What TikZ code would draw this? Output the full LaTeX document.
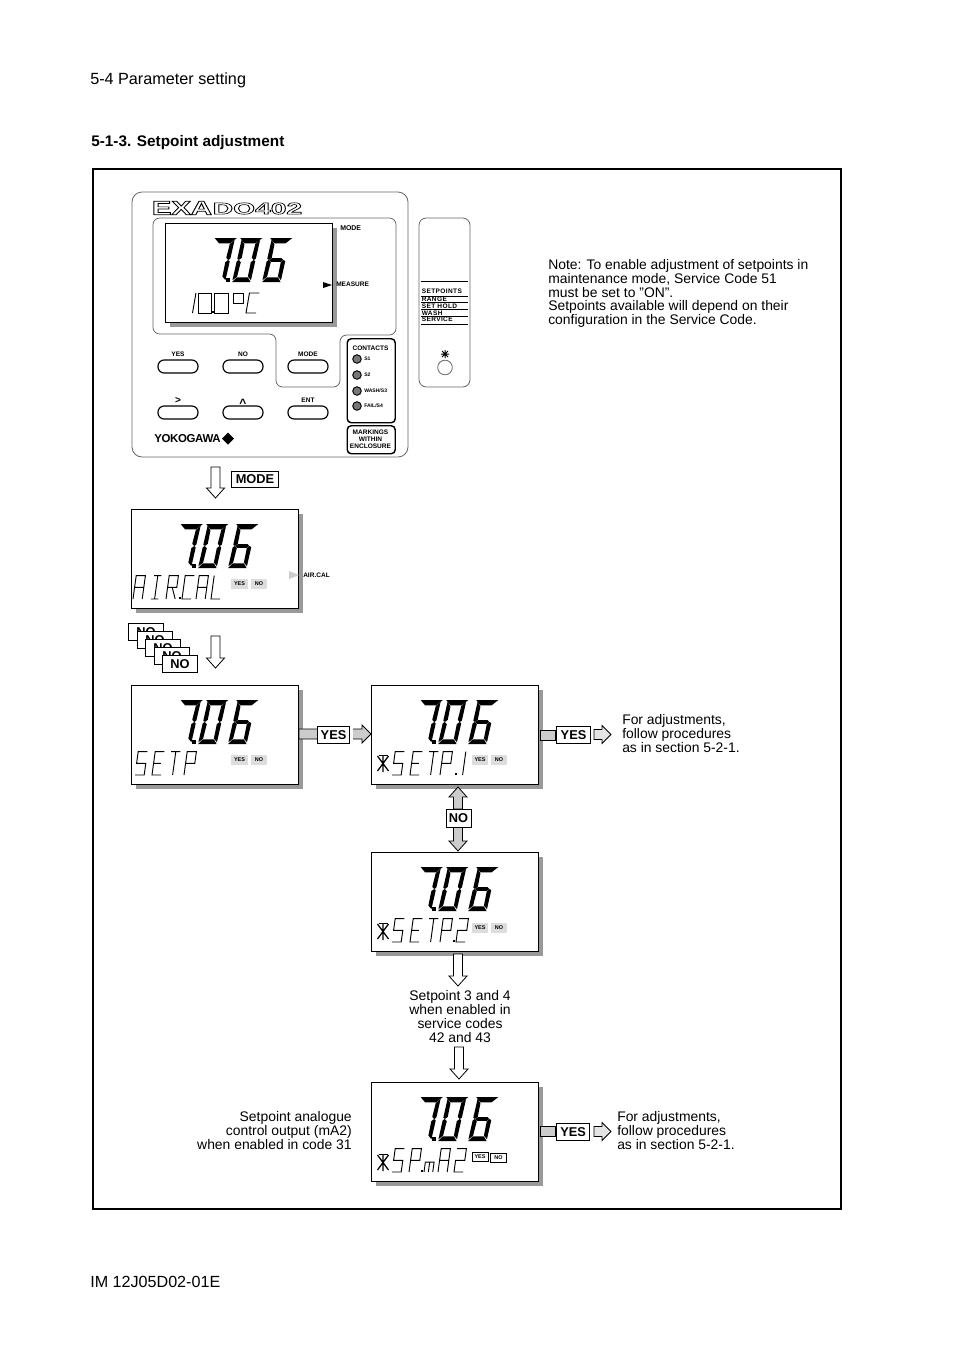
\documentclass[tikz,border=0pt]{standalone}
\usepackage{fontspec}
\setmainfont{Liberation Sans}
\usetikzlibrary{calc}
\newcommand\fs[1]{\fontsize{#1}{#1}\selectfont}
\definecolor{lcdshadow}{HTML}{999999}
\definecolor{panelline}{HTML}{666666}
\definecolor{blockfill}{HTML}{CCCCCC}
\definecolor{blocklight}{HTML}{E4E4E4}
\definecolor{tagfill}{HTML}{DDDDDD}
\definecolor{ledfill}{HTML}{777777}
\tikzset{
  lcdframe/.style={draw=black,line width=.9pt,fill=white,minimum width=125.25pt,minimum height=74.25pt,inner sep=0pt},
  lcdline/.style={line width=.7pt,line cap=butt,line join=miter},
  hiddentext/.style={opacity=0,inner sep=0pt,font=\fs{9}},
  blockarrow/.style={draw=black,line width=.6pt,line join=miter},
  body/.style={inner sep=0pt,font=\fontsize{10.42}{10.3}\selectfont},
  keybox/.style={draw=black,line width=.8pt,fill=white,inner sep=0pt,font=\bfseries\fs{9.6}},
  panelgray/.style={draw=panelline,line width=.6pt},
  tiny/.style={inner sep=0pt,font=\bfseries\fs{4.9}},
  pill/.style={draw=black,line width=.9pt,rounded corners=4.6pt},
  tagbox/.style={fill=tagfill,inner sep=0pt,minimum width=12.7pt,minimum height=6.8pt,font=\bfseries\fs{4.1}},
  tagline/.style={draw=black,line width=.5pt,fill=white,inner sep=0pt,minimum width=12.2pt,minimum height=7.2pt,font=\bfseries\fs{4.1}},
  led/.style={draw=black,line width=.7pt,fill=ledfill,circle,minimum size=6.4pt,inner sep=0pt},
}
% big segments: digit in a slanted unit square
\newcommand\sA{\fill (-.1,1)--(1.1,1)--(.8,.88)--(.2,.88)--cycle;}
\newcommand\sB{\fill (1,.96)--(1,.53)--(.9,.5)--(.77,.55)--(.79,.86)--cycle;}
\newcommand\sC{\fill (1,.47)--(1,.04)--(.79,.125)--(.77,.45)--(.9,.5)--cycle;}
\newcommand\sD{\fill (0,0)--(1,0)--(.8,.105)--(.2,.105)--cycle;}
\newcommand\sE{\fill (0,.47)--(0,.04)--(.21,.125)--(.23,.45)--(.1,.5)--cycle;}
\newcommand\sF{\fill (0,.96)--(0,.53)--(.1,.5)--(.23,.55)--(.21,.86)--cycle;}
\newcommand\sG{\fill (.12,.5)--(.25,.545)--(.75,.545)--(.88,.5)--(.75,.455)--(.25,.455)--cycle;}
\newcommand\bd[3]{\begin{scope}[shift={(#1,#2)},x={(13.9pt,0pt)},y={(7.5pt,33pt)}]#3\end{scope}}
\newcommand\bigval[2]{%
  \bd{#1+41.5}{#2+59}{\sA\sB\sC}
  \fill (#1+60.5,#2+54.5) rectangle (#1+65,#2+59);
  \bd{#1+67}{#2+59}{\sA\sB\sC\sD\sE\sF}
  \bd{#1+97}{#2+59}{\sA\sC\sD\sE\sF\sG}
  \node[hiddentext,anchor=center] at (#1+87,#2+37) {7.06};
}
% thin stroked characters
\newcommand\lc[3]{\begin{scope}[shift={(#1,#2)},x={(6.9pt,0pt)},y={(2.4pt,17.5pt)}]\draw[lcdline] #3;\end{scope}}
\newcommand\gA[2]{\lc{#1}{#2}{(0,0)--(0,1)--(1,1)--(1,0) (0,.5)--(1,.5)}}
\newcommand\gI[2]{\lc{#1}{#2}{(.1,1)--(.9,1) (.5,1)--(.5,0) (.1,0)--(.9,0)}}
\newcommand\gR[2]{\lc{#1}{#2}{(0,0)--(0,1)--(1,1)--(1,.5)--(0,.5) (.5,.5)--(1,0)}}
\newcommand\gC[2]{\lc{#1}{#2}{(1,1)--(0,1)--(0,0)--(1,0)}}
\newcommand\gL[2]{\lc{#1}{#2}{(0,1)--(0,0)--(1,0)}}
\newcommand\gS[2]{\lc{#1}{#2}{(1,1)--(0,1)--(0,.5)--(1,.5)--(1,0)--(0,0)}}
\newcommand\gE[2]{\lc{#1}{#2}{(1,1)--(0,1)--(0,0)--(1,0) (0,.5)--(.8,.5)}}
\newcommand\gT[2]{\lc{#1}{#2}{(0,1)--(1,1) (.5,1)--(.5,0)}}
\newcommand\gP[2]{\lc{#1}{#2}{(0,0)--(0,1)--(1,1)--(1,.5)--(0,.5)}}
\newcommand\gTwo[2]{\lc{#1}{#2}{(0,1)--(1,1)--(1,.5)--(0,.5)--(0,0)--(1,0)}}
\newcommand\gOne[2]{\lc{#1}{#2}{(.5,1)--(.5,0)}}
\newcommand\gM[2]{\lc{#1}{#2}{(0,0)--(0,.42)--(.95,.42)--(.95,0) (.47,.42)--(.47,0)}}
\newcommand\gDot[2]{\fill (#1,#2) rectangle ++(1.6,-1.6);}
\newcommand\gStar[2]{%
  \draw[line width=.95pt] (#1+6,#2) -- (#1+6,#2+17) (#1+.5,#2+1) -- (#1+11.5,#2+16) (#1+11.5,#2+1) -- (#1+.5,#2+16);
  \draw[line width=.5pt] (#1+1.5,#2) -- (#1+10.5,#2);
}
% small characters of the temperature reading
\newcommand\tz[3]{\begin{scope}[shift={(#1,#2)},x={(7.5pt,0pt)},y={(2.6pt,15pt)}]\draw[lcdline] #3;\end{scope}}
\newcommand\darrow[4]{\draw[blockarrow,fill=#4] ({#1-4.5},#2)--({#1+4.5},#2)--({#1+4.5},{#3-10})--({#1+9},{#3-10})--(#1,#3)--({#1-9},{#3-10})--({#1-4.5},{#3-10})--cycle;}
\newcommand\uarrow[4]{\draw[blockarrow,fill=#4] ({#1-4.5},#2)--({#1+4.5},#2)--({#1+4.5},{#3+10})--({#1+9},{#3+10})--(#1,#3)--({#1-9},{#3+10})--({#1-4.5},{#3+10})--cycle;}
\newcommand\rarrow[4]{\draw[blockarrow,fill=#4] (#2,{#1-5})--(#2,{#1+5})--({#3-9},{#1+5})--({#3-9},{#1+9})--(#3,#1)--({#3-9},{#1-9})--({#3-9},{#1-5})--cycle;}
\newcommand\display[3]{%
  \fill[lcdshadow] (#2+5,#3+5) rectangle (#2+171.5,#3+104);
  \node[lcdframe,anchor=north west] (#1) at (#2,#3) {};
  \bigval{#2}{#3}
}
\begin{document}
\begin{tikzpicture}[x=.75pt,y=-.75pt]
\useasboundingbox (0,0) rectangle (954,1350);
\fill[white] (0,0) rectangle (954,1350);
% page texts
\node[anchor=west,inner sep=0pt,font=\fs{12.15}] (head) at (90,80.5) {5-4 Parameter setting};
\node[anchor=west,inner sep=0pt,font=\bfseries\fs{11.5}] (sect) at (91,142.5) {5-1-3. Setpoint adjustment};
\node[anchor=west,inner sep=0pt,font=\fs{12.1}] (foot) at (90,1282) {IM 12J05D02-01E};
% frame
\node[draw=black,line width=1.5pt,minimum width=560.75pt,minimum height=780.25pt,inner sep=0pt,anchor=north west] (frame) at (92,167.5) {};
% panel
\draw[panelgray,rounded corners=7.5pt] (132,192) rectangle (408,457);
\node[anchor=center,inner sep=0pt] (logoA) at (182,208) {\resizebox{45pt}{10pt}{\special{pdf:code 1 Tr 0.35 w}\bfseries EXA}};
\node[anchor=center,inner sep=0pt] (logoB) at (257.5,208.5) {\resizebox{67pt}{8.5pt}{\special{pdf:code 1 Tr 0.35 w}\bfseries DO402}};
\draw[panelgray,rounded corners=5pt] (153,218) -- (396,218) -- (396,335) -- (340,335) -- (340,387) -- (276,387) -- (276,334) -- (153,334) -- cycle;
\display{lcdmain}{165}{223}
% 10.0 C
\tz{187.5}{313}{(.5,1)--(.5,0)}
\tz{198}{313}{(0,0) rectangle (1,1)}
\gDot{212}{313}
\tz{214.5}{313}{(0,0) rectangle (1,1)}
\begin{scope}[shift={(233,303)},x={(6.6pt,0pt)},y={(1.3pt,7.5pt)}]\draw[lcdline] (0,0) rectangle (1,1);\end{scope}
\tz{246}{313}{(1,1)--(0,1)--(0,0)--(1,0)}
\node[hiddentext] (tempval) at (224,304) {10.0°C};
\node[anchor=west,inner sep=0pt,font=\bfseries\fs{5.2}] (modelab) at (340,228) {MODE};
\fill (323,282) -- (332,285) -- (323,288) -- cycle;
\node[anchor=west,tiny] (measure) at (336,284) {MEASURE};
% buttons
\foreach \nm/\xa/\ya/\lab in {by/158/360/YES,bn/223/360/NO,bm/288/360/MODE,be/288/406/ENT}{
  \draw[pill] (\xa,\ya) rectangle ({\xa+40},{\ya+13});
  \node[tiny] (\nm) at ({\xa+20},{\ya-5.5}) {\lab};
}
\draw[pill] (158,406) rectangle (198,419);
\draw[pill] (223,406) rectangle (263,419);
\node[inner sep=0pt,font=\bfseries\fs{7.5}] (bg) at (178,400.5) {>};
\node[inner sep=0pt,font=\bfseries\fs{9}] (bu) at (243,403.5) {\char`\^};
% contacts
\node[draw=black,line width=1.1pt,rounded corners=3pt,minimum width=36pt,minimum height=63pt,inner sep=0pt,anchor=north west] (contacts) at (346.5,338) {};
\node[tiny] (contactslab) at (370.5,348) {CONTACTS};
\foreach \ya/\lab/\nm in {359/S1/la,375/S2/lb,391/WASH\slash S3/lc,406/FAIL\slash S4/ld}{
  \node[led] (\nm) at (357,\ya) {};
  \node[anchor=west,inner sep=0pt,font=\bfseries\fs{3.8}] (\nm t) at (364,\ya) {\lab};
}
\node[draw=black,line width=1.1pt,rounded corners=3pt,minimum width=36pt,minimum height=21pt,inner sep=0pt,anchor=north west] (markbox) at (346.5,425) {};
\node[align=center,inner sep=0pt,font=\bfseries\fontsize{4.9}{5.1}\selectfont] (mark) at (370.5,439) {MARKINGS\\WITHIN\\ENCLOSURE};
\node[anchor=west,inner sep=0pt,font=\bfseries\fs{8.6}] (yoko) at (154,438.5) {\addfontfeature{LetterSpace=-3}YOKOGAWA};
\fill (222,438.5) -- (228,432.5) -- (234,438.5) -- (228,444.5) -- cycle;
% side strip
\draw[panelgray,rounded corners=5.5pt] (419,218) rectangle (470,387);
\foreach \ya in {281,296,302,309,316,324}{\draw[line width=.7pt] (421,\ya) -- (468,\ya);}
\foreach \ya/\lab/\nm in {291/SETPOINTS/sa,299/RANGE/sb,306/SET HOLD/sc,313/WASH/sd,319/SERVICE/se}{
  \node[anchor=west,inner sep=0pt,font=\bfseries\fs{4.9}] (\nm) at (421.5,\ya) {\addfontfeature{LetterSpace=6}\lab};
}
\draw[line width=.75pt] (445,350)--(445,358) (441,354)--(449,354) (442,351)--(448,357) (448,351)--(442,357);
\draw[panelgray] (445,367.5) circle (5.5pt);
% mode arrow
\darrow{215.5}{467}{498}{white}
\node[keybox,minimum width=35.25pt,minimum height=12pt,anchor=north west] (mode) at (231,471) {MODE};
% AIR.CAL
\display{lcdair}{131}{509}
\gA{133}{599}\gI{150}{599}\gR{166}{599}\gDot{179}{599}\gC{182}{599}\gA{196}{599}\gL{211}{599}
\node[hiddentext] (airtxt) at (178,588) {AIR.CAL};
\node[tagbox] (ya) at (239.5,584) {YES}; \node[tagbox] (na) at (259,584) {NO};
\fill[blockfill] (289,571) -- (299,575) -- (289,579) -- cycle;
\node[anchor=west,tiny] (airlab) at (303,575) {AIR.CAL};
% NO stack
\foreach \xa/\ya/\nm in {128/623/noa,137/631/nob,145/639/noc,154/647/nod,162/655/noe}{
  \node[keybox,minimum width=26.25pt,minimum height=12.75pt,anchor=north west] (\nm) at (\xa,\ya) {NO};
}
\darrow{215.5}{636}{668}{white}
% SETP
\display{lcdsetp}{131}{685}
\gS{135}{775}\gE{152}{775}\gT{168}{775}\gP{184}{775}
\node[hiddentext] (setptxt) at (165,764) {SETP};
\node[tagbox] (yb) at (239.5,760) {YES}; \node[tagbox] (nb) at (259,760) {NO};
\rarrow{734}{299}{371}{blockfill}
\node[keybox,minimum width=24pt,minimum height=12.5pt,anchor=north west] (yesa) at (317,726) {YES};
\draw[line width=0pt,draw=white,fill=white] (350,728) rectangle (352,741);
% SETP.1
\display{lcdone}{371}{685}
\gStar{377}{755}
\gS{392}{775}\gE{410}{775}\gT{426}{775}\gP{440}{775}\gDot{455}{775}\gOne{458}{775}
\node[hiddentext] (onetxt) at (425,764) {*SETP.1};
\node[tagbox] (yc) at (480,760) {YES}; \node[tagbox] (nc) at (499,760) {NO};
\draw[blockarrow,fill=blockfill] (540,730) rectangle (555,740);
\node[keybox,minimum width=25.5pt,minimum height=12.75pt,anchor=north west] (yesb) at (556,726) {YES};
\rarrow{734.5}{594}{611}{blocklight}
% NO double arrow
\uarrow{458}{809}{787}{blockfill}
\darrow{458}{827}{851}{blockfill}
\node[keybox,minimum width=18.75pt,minimum height=13.5pt,anchor=north west] (nomid) at (445.5,809) {NO};
% SETP.2
\display{lcdtwo}{371}{852}
\gStar{377}{923}
\gS{392}{942}\gE{410}{942}\gT{426}{942}\gP{440}{942}\gDot{453}{942}\gTwo{456}{942}
\node[hiddentext] (twotxt) at (425,932) {*SETP.2};
\node[tagbox] (yd) at (480,928) {YES}; \node[tagbox] (nd) at (499,928) {NO};
\darrow{458}{954}{986}{white}
\node[body,align=center] (sp34) at (460,1016.5) {Setpoint 3 and 4\\when enabled in\\service codes\\42 and 43};
\darrow{459}{1047}{1079}{white}
% SP.mA2
\display{lcdma}{371}{1082}
\gStar{377}{1154}
\gS{392}{1172}\gP{409}{1172}\gDot{421}{1172}\gM{424}{1172}\gA{438}{1172}\gTwo{454}{1172}
\node[hiddentext] (matxt) at (425,1162) {*SP.mA2};
\node[tagline] (ye) at (480,1157) {YES}; \node[tagline] (ne) at (498.5,1158) {NO};
\draw[blockarrow,fill=blockfill] (540,1126) rectangle (555,1136);
\node[keybox,minimum width=25pt,minimum height=12.75pt,anchor=north west] (yesc) at (556,1123) {YES};
\rarrow{1131.5}{594}{611}{blocklight}
% notes
\node[body,align=left,anchor=west] (note) at (548,293.5) {Note: To enable adjustment of setpoints in\\maintenance mode, Service Code 51\\must be set to "ON".\\Setpoints available will depend on their\\configuration in the Service Code.};
\node[body,align=left,anchor=west] (fa) at (622,733.5) {For adjustments,\\follow procedures\\as in section 5-2-1.};
\node[body,align=left,anchor=west] (fb) at (617,1130.5) {For adjustments,\\follow procedures\\as in section 5-2-1.};
\node[body,align=right,anchor=east] (an) at (352,1130.5) {Setpoint analogue\\control output (mA2)\\when enabled in code 31};
\end{tikzpicture}
\end{document}
